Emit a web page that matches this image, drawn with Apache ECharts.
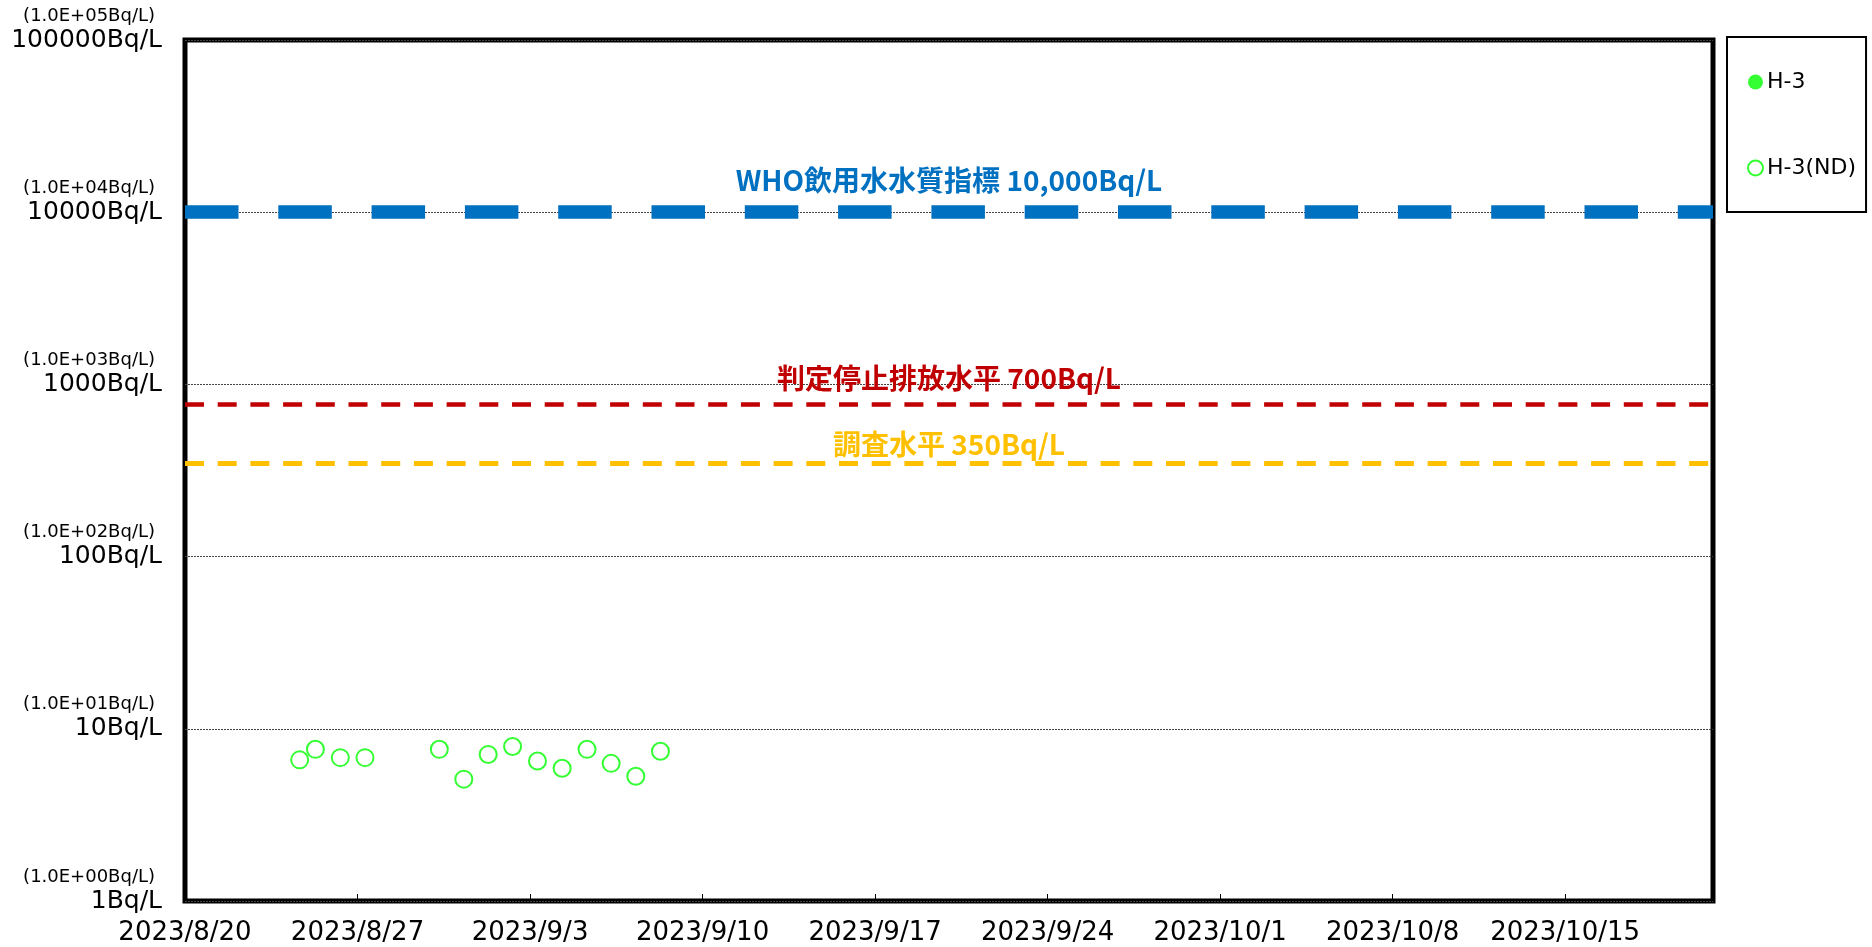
<!DOCTYPE html>
<html><head><meta charset="utf-8">
<script src="https://cdn.jsdelivr.net/npm/echarts@6/dist/echarts.min.js"></script>
<style>html,body{margin:0;padding:0;background:#fff}#c{width:1872px;height:947px}</style>
</head><body><div id="c"></div>
<script>
// ---- data ----
const startDate = '2023-08-20 00:00';
const endDate = '2023-10-21 00:00';
const xTickDates = ['2023/8/20','2023/8/27','2023/9/3','2023/9/10','2023/9/17','2023/9/24','2023/10/1','2023/10/8','2023/10/15'];
const ndTimes = ['2023-08-24 15:40','2023-08-25 07:00','2023-08-26 07:15','2023-08-27 07:15','2023-08-30 07:40','2023-08-31 07:30','2023-09-01 07:15','2023-09-02 07:00','2023-09-03 07:15','2023-09-04 07:15','2023-09-05 07:30','2023-09-06 07:00','2023-09-07 07:00','2023-09-08 07:00'];
const ndValues = [6.6,7.6,6.8,6.8,7.6,5.1,7.1,7.9,6.5,5.9,7.6,6.3,5.3,7.4];
const h3Times = [];
const h3Values = [];
const yTickLabels = ['1Bq/L','10Bq/L','100Bq/L','1000Bq/L','10000Bq/L','100000Bq/L'];
const ySciLabels = ['(1.0E+00Bq/L)','(1.0E+01Bq/L)','(1.0E+02Bq/L)','(1.0E+03Bq/L)','(1.0E+04Bq/L)','(1.0E+05Bq/L)'];
const refTexts = ['WHO飲用水水質指標 10,000Bq/L','判定停止排放水平 700Bq/L','調査水平 350Bq/L'];
const refLevels = [10000, 770, 350];   // positions as drawn in the picture
const refColors = ['#0070C0','#C00000','#FFC000'];
const seriesNames = ['H-3','H-3(ND)'];

// ---- helpers ----
function toMs(s){const [d,t]=s.split(' ');const [y,m,dd]=d.split('-').map(Number);const [h,mi]=(t||'0:0').split(':').map(Number);return Date.UTC(y,m-1,dd,h,mi);}
const t0 = toMs(startDate);
const dayOf = s => (toMs(s)-t0)/86400000;
const xMax = dayOf(endDate);
const ndData = ndTimes.map((t,i)=>[dayOf(t), ndValues[i]]);
const h3Data = h3Times.map((t,i)=>[dayOf(t), h3Values[i]]);

const chart = echarts.init(document.getElementById('c'), null, {renderer:'canvas'});
const green = '#00FF00';
const refStyles = [
  {width:13.5, type:[53.5,39.8], dist:18},
  {width:4.5, type:[19,13.7], dist:11.5},
  {width:5, type:[19,13.7], dist:5}
];
chart.setOption({
  animation:false,
  backgroundColor:'#fff',
  grid:{left:185, right:159, top:40, bottom:46, show:true, borderColor:'#000', borderWidth:5, backgroundColor:'transparent'},
  legend:{
    orient:'vertical', left:1727, top:37,
    data:seriesNames,
    itemWidth:15, itemHeight:15, itemGap:64,
    padding:[34,10,33,20],
    borderColor:'#000', borderWidth:2,
    textStyle:{fontFamily:'DejaVu Sans', fontSize:22, color:'#000', padding:[0,0,0,-1]}
  },
  xAxis:{
    type:'value', min:0, max:xMax, interval:7,
    axisLine:{show:false},
    axisTick:{show:true, inside:true, length:7, lineStyle:{color:'#000', width:1}},
    splitLine:{show:false},
    axisLabel:{
      margin:19, fontFamily:'DejaVu Sans', fontSize:26, color:'#000', showMaxLabel:false,
      formatter:v=>{const i=Math.round(v/7);return (Math.abs(v-i*7)<1e-6 && xTickDates[i])?xTickDates[i]:'';}
    }
  },
  yAxis:{
    type:'log', logBase:10, min:1, max:100000,
    axisLine:{show:false}, axisTick:{show:false},
    splitLine:{show:true, lineStyle:{color:'#444', type:[2,1], width:1}},
    axisLabel:{
      margin:23, fontFamily:'DejaVu Sans', color:'#000',
      formatter:v=>{const e=Math.round(Math.log10(v));return '{s|'+ySciLabels[e]+'}\n{b|'+yTickLabels[e]+'}\n{e| }';},
      rich:{
        s:{fontFamily:'DejaVu Sans', fontSize:18, lineHeight:20, padding:[0,7,0,0], color:'#000', align:'right'},
        b:{fontFamily:'DejaVu Sans', fontSize:25, lineHeight:28, color:'#000', align:'right'},
        e:{fontSize:10, lineHeight:20}
      }
    }
  },
  series:[
    {name:seriesNames[0], type:'scatter', symbol:'circle', symbolSize:17, itemStyle:{color:green}, data:h3Data, z:5},
    {name:seriesNames[1], type:'scatter', symbol:'emptyCircle', symbolSize:17, itemStyle:{color:green, borderWidth:2.2}, data:ndData, z:5,
     markLine:{
       silent:true, symbol:'none', animation:false,
       data: refLevels.map((lv,i)=>({
         yAxis:lv,
         lineStyle:{color:refColors[i], width:refStyles[i].width, type:refStyles[i].type, cap:'butt'},
         label:{show:true, position:'insideMiddleTop', distance:refStyles[i].dist, formatter:refTexts[i],
           color:refColors[i], fontFamily:'Noto Sans CJK JP', fontWeight:'bold', fontSize:28}
       }))
     }}
  ]
});
</script></body></html>
